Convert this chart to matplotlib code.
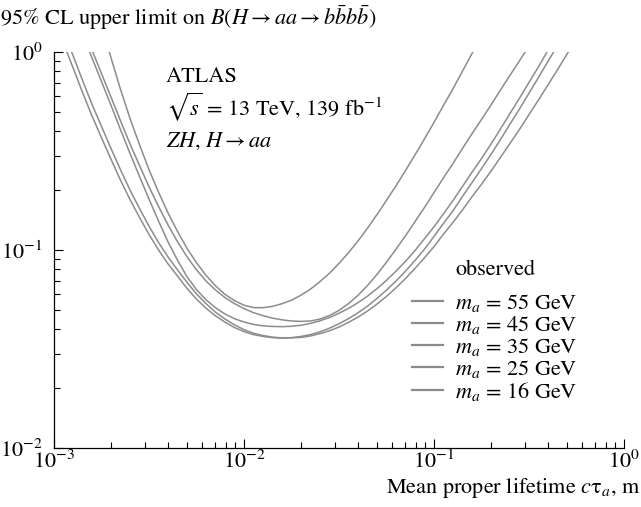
import matplotlib
matplotlib.use('Agg')
import matplotlib.pyplot as plt

plt.rcParams['font.family'] = 'STIXGeneral'
plt.rcParams['mathtext.fontset'] = 'stix'

ct = [0.00100, 0.00112, 0.00126, 0.00141, 0.00158, 0.00178, 0.00200, 0.00224, 0.00251, 0.00282,
      0.00316, 0.00355, 0.00398, 0.00447, 0.00501, 0.00562, 0.00631, 0.00708, 0.00794, 0.00891,
      0.0100, 0.0112, 0.0126, 0.0141, 0.0158, 0.0178, 0.0200, 0.0224, 0.0251, 0.0282,
      0.0316, 0.0355, 0.0398, 0.0447, 0.0501, 0.0562, 0.0631, 0.0708, 0.0794, 0.0891,
      0.100, 0.112, 0.126, 0.141, 0.158, 0.178, 0.200, 0.224, 0.251, 0.282,
      0.316, 0.355, 0.398, 0.447, 0.501, 0.562, 0.631]

# observed 95% CL limits, each list starts at grid index start_*
start_55 = 5
lim_55 = [1.36, 0.927, 0.647, 0.463, 0.340, 0.255, 0.196, 0.154, 0.124, 0.102,
          0.0863, 0.0745, 0.0659, 0.0597, 0.0555, 0.0526, 0.0512, 0.0511, 0.0519, 0.0535,
          0.0558, 0.0592, 0.0635, 0.0692, 0.0764, 0.0855, 0.0970, 0.111, 0.129, 0.151,
          0.178, 0.211, 0.252, 0.302, 0.364, 0.441, 0.536, 0.653, 0.798, 0.977, 1.20]

start_45 = 4
lim_45 = [1.03, 0.776, 0.589, 0.449, 0.344, 0.267, 0.209, 0.166, 0.134, 0.110,
          0.0925, 0.0794, 0.0698, 0.0628, 0.0575, 0.0536, 0.0506, 0.0483, 0.0466, 0.0453,
          0.0444, 0.0438, 0.0436, 0.0438, 0.0448, 0.0467, 0.0495, 0.0536, 0.0590, 0.0662,
          0.0753, 0.0867, 0.101, 0.118, 0.139, 0.164, 0.195, 0.231, 0.274, 0.325,
          0.385, 0.457, 0.542, 0.643, 0.762, 0.904, 1.07]

start_35 = 3
lim_35 = [1.24, 0.940, 0.708, 0.535, 0.405, 0.308, 0.235, 0.181, 0.140, 0.110,
          0.0887, 0.0733, 0.0631, 0.0561, 0.0511, 0.0475, 0.0450, 0.0433, 0.0421, 0.0414,
          0.0411, 0.0410, 0.0412, 0.0417, 0.0426, 0.0439, 0.0456, 0.0479, 0.0507, 0.0542,
          0.0585, 0.0638, 0.0703, 0.0782, 0.0877, 0.0993, 0.114, 0.131, 0.152, 0.178,
          0.209, 0.246, 0.290, 0.344, 0.409, 0.489, 0.585, 0.701, 0.843, 1.02]

start_25 = 1
lim_25 = [1.11, 0.832, 0.628, 0.479, 0.368, 0.286, 0.225, 0.180, 0.146, 0.120,
          0.100, 0.0851, 0.0738, 0.0640, 0.0565, 0.0508, 0.0465, 0.0432, 0.0406, 0.0387,
          0.0374, 0.0366, 0.0361, 0.0359, 0.0361, 0.0366, 0.0374, 0.0386, 0.0403, 0.0424,
          0.0450, 0.0482, 0.0521, 0.0569, 0.0627, 0.0697, 0.0782, 0.0885, 0.101, 0.117,
          0.136, 0.158, 0.186, 0.218, 0.258, 0.305, 0.362, 0.432, 0.516, 0.619,
          0.745, 0.897, 1.08]

start_16 = 1
lim_16 = [1.28, 0.959, 0.723, 0.548, 0.420, 0.324, 0.254, 0.201, 0.162, 0.132,
          0.109, 0.0923, 0.0793, 0.0687, 0.0601, 0.0536, 0.0485, 0.0448, 0.0419, 0.0396,
          0.0380, 0.0370, 0.0363, 0.0360, 0.0360, 0.0362, 0.0368, 0.0378, 0.0391, 0.0408,
          0.0431, 0.0458, 0.0492, 0.0533, 0.0583, 0.0644, 0.0718, 0.0807, 0.0914, 0.104,
          0.120, 0.138, 0.159, 0.185, 0.215, 0.251, 0.294, 0.345, 0.407, 0.482,
          0.573, 0.682, 0.815, 0.975, 1.17]

masses = ['55', '45', '35', '25', '16']
series = [(start_55, lim_55), (start_45, lim_45), (start_35, lim_35),
          (start_25, lim_25), (start_16, lim_16)]

W, H = 641, 507
fig = plt.figure(figsize=(W / 100, H / 100), dpi=100)
ax = fig.add_axes([54 / W, 1 - 448 / H, (624 - 54) / W, (448 - 52) / H])

grey = '#8c8c8c'
for m, (i0, lim) in zip(masses, series):
    ax.plot(ct[i0:i0 + len(lim)], lim, color=grey, lw=1.1, label=r'$m_a$ = ' + m + ' GeV')

ax.set_xscale('log')
ax.set_yscale('log')
ax.set_xlim(1e-3, 1)
ax.set_ylim(1e-2, 1)

for s in ['top', 'right']:
    ax.spines[s].set_visible(False)
for s in ['left', 'bottom']:
    ax.spines[s].set_linewidth(0.9)

ax.tick_params(which='both', direction='in', labelsize=16, width=0.8)
ax.tick_params(which='major', length=6.5)
ax.tick_params(which='minor', length=4)
ax.tick_params(axis='x', pad=2)
ax.tick_params(axis='y', pad=8)

leg = ax.legend(loc='upper left', bbox_to_anchor=((412 - 54) / 570, (448 - 292) / 396),
                frameon=False, fontsize=16, handlelength=1.4, handletextpad=0.55,
                labelspacing=0.0, borderaxespad=0, borderpad=0)
for h in leg.legend_handles:
    h.set_linewidth(1.6)

fig.text(455 / W, 1 - 270 / H, 'observed', fontsize=16, va='center', ha='left')
fig.text(0.0, 1 - 18 / H, r'95% CL upper limit on $B(H\rightarrow aa\rightarrow b\bar{b}b\bar{b})$',
         fontsize=16, va='center', ha='left')
fig.text(166 / W, 1 - 77 / H, 'ATLAS', fontsize=16, va='center')
fig.text(166 / W, 1 - 107 / H, r'$\sqrt{s}$ = 13 TeV, 139 fb$^{-1}$', fontsize=16, va='center')
fig.text(166 / W, 1 - 141 / H, r'$ZH$, $H\rightarrow aa$', fontsize=16, va='center')
fig.text(1.0, 1 - 488 / H, r'Mean proper lifetime $c\mathrm{\tau}_a$, m', fontsize=16,
         va='center', ha='right')

fig.savefig('out.png', dpi=100)
